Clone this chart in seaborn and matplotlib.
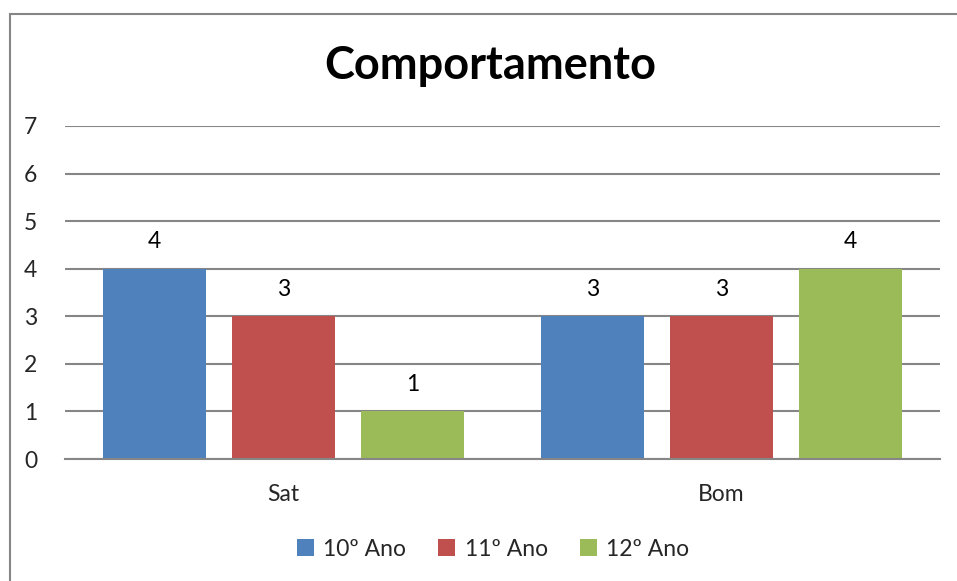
import matplotlib
matplotlib.use("Agg")
import matplotlib.pyplot as plt
import seaborn as sns
import pandas as pd
from matplotlib.patches import Patch, Rectangle

categories = ["Sat", "Bom"]
series = ["10º Ano", "11º Ano", "12º Ano"]
values_10 = [4, 3]
values_11 = [3, 3]
values_12 = [1, 4]
colors = ["#4F81BD", "#C0504D", "#9BBB59"]
y_ticks = [0, 1, 2, 3, 4, 5, 6, 7]
title = "Comportamento"

rows = []
for s, vals in zip(series, [values_10, values_11, values_12]):
    for c, v in zip(categories, vals):
        rows.append({"cat": c, "serie": s, "val": v})
df = pd.DataFrame(rows)

sns.set_theme(style="white")
plt.rcParams["font.family"] = ["Lato", "DejaVu Sans"]

W, H = 957, 581
fig = plt.figure(figsize=(W / 100, H / 100), dpi=100)
ax = fig.add_axes([65 / W, 1 - 459 / H, (940 - 65) / W, (459 - 126) / H])

sns.barplot(data=df, x="cat", y="val", hue="serie", order=categories,
            hue_order=series, palette=colors, width=0.885, gap=0.2,
            saturation=1, ax=ax, legend=False, linewidth=0, edgecolor="none")

fs = 16.5
ax.set_xlim(-0.5, 1.5)
ax.set_ylim(0, 7)
ax.set_yticks(y_ticks)
ax.set_yticklabels([str(t) for t in y_ticks], fontsize=fs)
ax.yaxis.grid(True, color="#868686", linewidth=1.5)
ax.set_axisbelow(True)
for sp in ["top", "right", "left"]:
    ax.spines[sp].set_visible(False)
ax.spines["bottom"].set_color("#868686")
ax.spines["bottom"].set_linewidth(1.5)
ax.tick_params(axis="y", length=0, pad=20)
ax.tick_params(axis="x", length=0, pad=18, labelsize=fs)
ax.set_xlabel("")
ax.set_ylabel("")

for cont in ax.containers:
    ax.bar_label(cont, labels=[f"{int(v)}" for v in cont.datavalues],
                 padding=12, fontsize=fs, color="black")

fig.text(490 / W, 1 - 66 / H, title, ha="center", va="center",
         fontsize=32.5, fontweight="bold", color="black")

handles = [Patch(facecolor=c, edgecolor="none") for c in colors]
fig.legend(handles, series, loc="center", bbox_to_anchor=(493 / W, 1 - 549 / H),
           ncol=3, frameon=False, fontsize=fs, handlelength=0.75, handleheight=0.75,
           handletextpad=0.4, columnspacing=1.4)

fig.patches.append(Rectangle((9.5 / W, -0.1), 1.2, 1 - 13.5 / H + 0.1,
                             transform=fig.transFigure, fill=False,
                             edgecolor="#868686", linewidth=1.5))

fig.savefig("out.png", dpi=100)
